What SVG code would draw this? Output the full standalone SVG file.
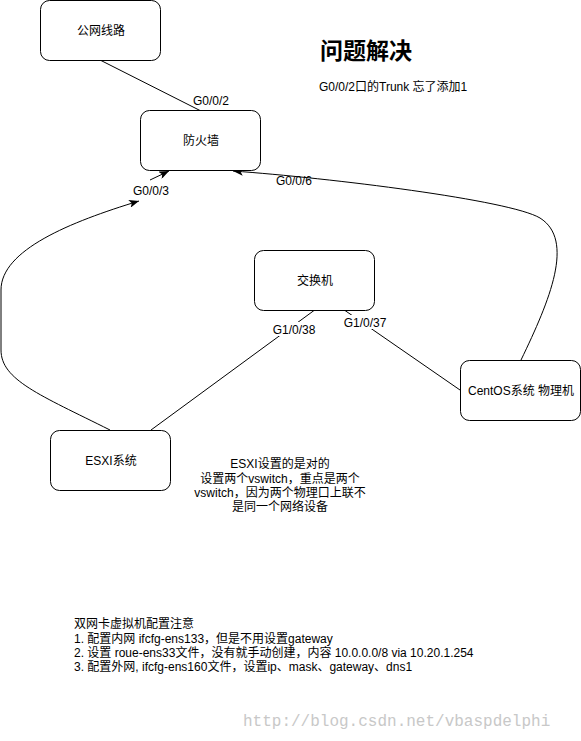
<svg xmlns="http://www.w3.org/2000/svg" width="581" height="741" viewBox="0 0 581 741">
<defs>
<style>
.n rect{fill:#fff;stroke:#000;stroke-width:1}
text{font-family:"Liberation Sans","Noto Sans CJK SC",sans-serif;font-size:12px;fill:#000}
.c{text-anchor:middle}
.e{fill:none;stroke:#000;stroke-width:1}
.bg{fill:#fff}
</style>
<marker id="arr" viewBox="0 0 10 8" refX="10" refY="4" markerWidth="10" markerHeight="8" orient="auto" markerUnits="userSpaceOnUse">
<path d="M0,0 L10,4 L0,8 L2.5,4 z" fill="#000"/>
</marker>
</defs>
<rect width="581" height="741" fill="#fff"/>
<g id="connectors">
<line class="e" x1="101" y1="60.5" x2="200" y2="110.5"/>
<path class="e" d="M110,430 C40,395 1,380 1,350 L1,290 C1,250 70,222 139,201" marker-end="url(#arr)"/>
<line class="e" x1="150" y1="180" x2="169" y2="171" marker-end="url(#arr)"/>
<path class="e" d="M521,360 C550,300 575,240 540,218 C510,200 330,178 233,171" marker-end="url(#arr)"/>
<line class="e" x1="151" y1="430" x2="314" y2="310.5"/>
<line class="e" x1="345" y1="310.5" x2="460" y2="390"/>
<text class="c" x="211" y="105">G0/0/2</text>
<text class="c" x="151" y="195">G0/0/3</text>
<text class="c" x="294" y="185">G0/0/6</text>
<rect class="bg" x="272" y="322" width="44" height="14"/>
<text class="c" x="294" y="334">G1/0/38</text>
<rect class="bg" x="344" y="315" width="43" height="14"/>
<text class="c" x="365" y="327">G1/0/37</text>
</g>
<g id="node-public" class="n"><rect x="40.5" y="0.5" width="120" height="60" rx="9"/><text class="c" x="101" y="35">公网线路</text></g>
<g id="node-firewall" class="n"><rect x="140.5" y="110.5" width="120" height="60" rx="9"/><text class="c" x="201" y="145">防火墙</text></g>
<g id="node-switch" class="n"><rect x="254.5" y="250.5" width="120" height="60" rx="9"/><text class="c" x="315" y="285">交换机</text></g>
<g id="node-centos" class="n"><rect x="460.5" y="360.5" width="120" height="60" rx="9"/><text class="c" x="521" y="395">CentOS系统 物理机</text></g>
<g id="node-esxi" class="n"><rect x="50.5" y="430.5" width="120" height="60" rx="9"/><text class="c" x="111" y="465">ESXI系统</text></g>
<g id="notes">
<text class="c" x="366" y="59" style="font-size:23px;font-weight:bold">问题解决</text>
<text x="319" y="91">G0/0/2口的Trunk 忘了添加1</text>
<text class="c" x="280" y="468">ESXI设置的是对的</text>
<text class="c" x="280" y="483">设置两个vswitch，重点是两个</text>
<text class="c" x="280" y="497">vswitch，因为两个物理口上联不</text>
<text class="c" x="280" y="511">是同一个网络设备</text>
<text x="74" y="628">双网卡虚拟机配置注意</text>
<text x="74" y="643">1. 配置内网 ifcfg-ens133，但是不用设置gateway</text>
<text x="74" y="657">2. 设置 roue-ens33文件，没有就手动创建，内容 10.0.0.0/8 via 10.20.1.254</text>
<text x="74" y="671">3. 配置外网, ifcfg-ens160文件，设置ip、mask、gateway、dns1</text>
<text x="243" y="726" style="font-family:'Liberation Mono',monospace;font-size:16px;fill:#c8c8c8">http://blog.csdn.net/vbaspdelphi</text>
</g>
</svg>
